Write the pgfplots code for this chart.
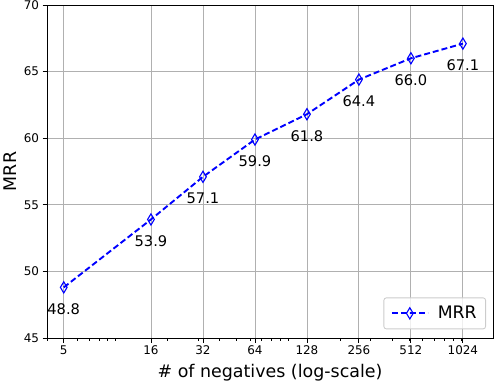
\documentclass[border=0pt]{standalone}
\usepackage{fontspec}
\setmainfont{DejaVu Sans}
\usepackage{pgfplots}
\pgfplotsset{compat=1.18}
\usetikzlibrary{calc}
\definecolor{gridgray}{HTML}{B0B0B0}
\definecolor{legendgray}{HTML}{CCCCCC}

\begin{document}
\begin{tikzpicture}
\begin{axis}[
  name=ax,
  scale only axis,
  width=446bp, height=333bp,
  xmode=log,
  xmin=4, xmax=1530,
  ymin=45, ymax=70,
  xtick={5,16,32,64,128,256,512,1024},
  xticklabels={5,16,32,64,128,256,512,1024},
  minor xtick={4,6,7,8,9,10,20,30,40,50,60,70,80,90,100,200,300,400,500,600,700,800,900,1000},
  ytick={45,50,55,60,65,70},
  grid=major,
  major grid style={gridgray, line width=0.85bp},
  axis line style={line width=0.85bp},
  tick style={black, line width=0.85bp},
  major tick length=4.5bp, minor tick length=2.6bp,
  tick align=outside, tick pos=left,
  /pgf/number format/assume math mode=true,
  ticklabel style={font=\fontsize{12}{14}\selectfont},
  label style={font=\fontsize{17.5}{20}\selectfont},
  xlabel={\# of negatives (log-scale)},
  ylabel={MRR},
  xlabel style={yshift=-2bp},
  legend style={at={(1,0)}, anchor=south east, xshift=-7bp, yshift=8.7bp,
    draw=legendgray, line width=0.85bp, rounded corners=2.5bp,
    fill=white, fill opacity=0.8, text opacity=1,
    font=\fontsize{17.3}{20}\selectfont,
    inner xsep=7bp, inner ysep=6.5bp,
    /tikz/every odd column/.append style={column sep=7bp}},
  legend image code/.code={\draw[#1, mark repeat=2, mark phase=2]
    plot coordinates {(0bp,0bp) (18bp,0bp) (36bp,0bp)};},
]
\addplot[color=blue, line width=1.9bp, dash pattern=on 6bp off 3bp,
  mark=diamond, mark size=5.6bp,
  mark options={solid, fill=none, xscale=0.8, line width=1.1bp},
  nodes near coords, point meta=explicit symbolic,
  every node near coord/.append style={anchor=center, yshift=-21.5bp,
    text=black, font=\fontsize{14.7}{17}\selectfont}]
coordinates {
  (5,48.8) [48.8]
  (16,53.9) [53.9]
  (32,57.1) [57.1]
  (64,59.9) [59.9]
  (128,61.8) [61.8]
  (256,64.4) [64.4]
  (512,66.0) [66.0]
  (1024,67.1) [67.1]
};
\addlegendentry{MRR}
\end{axis}
\pgfresetboundingbox
\path ($(ax.south west)+(-47bp,-42bp)$) rectangle ($(ax.north east)+(3bp,5bp)$);
\end{tikzpicture}
\end{document}
